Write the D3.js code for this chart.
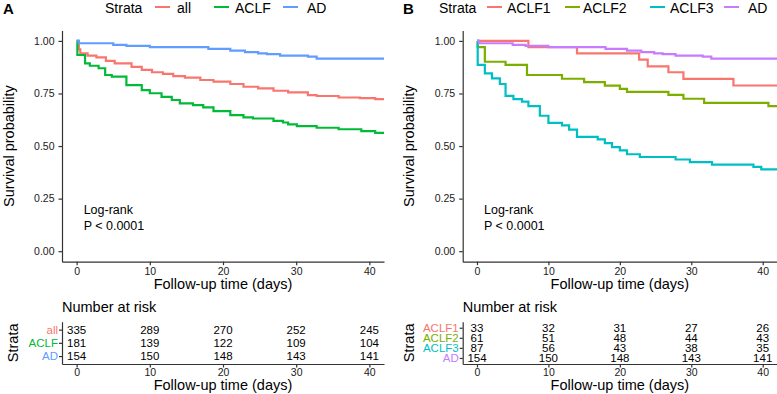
<!DOCTYPE html>
<html>
<head>
<meta charset="utf-8">
<script src="https://cdn.jsdelivr.net/npm/d3@7"></script>
<style>
  body { margin: 0; background: #fff; }
  svg { display: block; font-family: "Liberation Sans", Arial, sans-serif; }
</style>
</head>
<body>
<div id="chart"></div>
<script>
// ---- data ----
const yTicks = [0, 0.25, 0.5, 0.75, 1];
const xTicks = [0, 10, 20, 30, 40];
const riskTimes = [0, 10, 20, 30, 40];

// panel A
const groupsA = ['all', 'ACLF', 'AD'];
const allT = [0, 0.3, 0.5, 1.5, 2.7, 4.0, 5.2, 7.5, 8.9, 10.3, 11.8, 13.2, 14.8, 16.9, 18.7, 21, 22.8, 24.8, 26.9, 28.9, 31.6, 32.8, 35.8, 38.7, 40.8, 42];
const allS = [1, 0.960, 0.941, 0.930, 0.922, 0.905, 0.893, 0.877, 0.862, 0.851, 0.843, 0.833, 0.825, 0.814, 0.806, 0.795, 0.782, 0.774, 0.763, 0.755, 0.742, 0.738, 0.731, 0.728, 0.723, 0.723];
const aclfT = [0, 0.1, 1.15, 1.8, 3.0, 3.9, 4.8, 6.8, 8.9, 10, 11.6, 13, 14.1, 15.9, 17.3, 18.7, 21, 22.8, 24.1, 26.9, 28.2, 28.9, 30.1, 32.8, 35.8, 38.9, 40.8, 42];
const aclfS = [1, 0.933, 0.893, 0.882, 0.870, 0.838, 0.830, 0.790, 0.766, 0.751, 0.734, 0.719, 0.703, 0.695, 0.684, 0.666, 0.647, 0.636, 0.631, 0.620, 0.612, 0.603, 0.595, 0.587, 0.580, 0.571, 0.563, 0.563];
const adT = [0, 0.3, 5.0, 6.8, 10, 18, 21, 23, 24.8, 26, 27.8, 31.6, 32.8, 42];
const adS = [1, 0.989, 0.981, 0.976, 0.970, 0.962, 0.954, 0.947, 0.941, 0.937, 0.930, 0.925, 0.916, 0.916];

// panel B
const groupsB = ['ACLF1', 'ACLF2', 'ACLF3', 'AD'];
const aclf1T = [0, 7.2, 14, 22.7, 23.9, 26.8, 28.9, 35.9, 42];
const aclf1S = [1, 0.970, 0.941, 0.911, 0.879, 0.851, 0.819, 0.788, 0.788];
const aclf2T = [0, 0.1, 1.1, 4.0, 7.0, 11.9, 15, 17.9, 20, 21, 26.8, 28.9, 31.8, 40.8, 42];
const aclf2S = [1, 0.970, 0.901, 0.886, 0.838, 0.820, 0.804, 0.787, 0.772, 0.758, 0.743, 0.725, 0.705, 0.690, 0.690];
const aclf3T = [0, 0.1, 1.1, 2.1, 3.2, 4.0, 5.1, 6.3, 7.2, 8.8, 10, 11.9, 12.9, 14, 16.9, 17.9, 18.9, 20, 21, 22.8, 27.8, 29.8, 32.9, 38.7, 39.8, 42];
const aclf3S = [1, 0.886, 0.846, 0.822, 0.795, 0.739, 0.723, 0.711, 0.690, 0.644, 0.610, 0.598, 0.578, 0.544, 0.532, 0.514, 0.495, 0.479, 0.461, 0.448, 0.436, 0.424, 0.412, 0.401, 0.389, 0.389];

// number at risk
const riskAll = [335, 289, 270, 252, 245];
const riskACLF = [181, 139, 122, 109, 104];
const riskAD = [154, 150, 148, 143, 141];
const riskACLF1 = [33, 32, 31, 27, 26];
const riskACLF2 = [61, 51, 48, 44, 43];
const riskACLF3 = [87, 56, 43, 38, 35];

const colorsA = ['#F8766D', '#00BA38', '#619CFF'];
const colorsB = ['#F8766D', '#7CAE00', '#00BFC4', '#C77CFF'];

function zipCurve(t, s) {
    return t.map((d, i) => ({ t: d, s: s[i] }));
}

const svg = d3.select('#chart')
    .append('svg')
    .attr('width', 777)
    .attr('height', 394);

function styleAxis(a) {
    a.selectAll('path, line').attr('stroke', '#333').attr('stroke-width', 1.2);
    a.selectAll('text').attr('font-size', 10.5).attr('fill', '#1a1a1a')
        .attr('font-family', '"Liberation Sans", Arial, sans-serif');
}

function drawPanel(cfg) {
    const x = d3.scaleLinear().domain([-2, 42]).range([cfg.left, cfg.right]);
    const y = d3.scaleLinear().domain([-0.05, 1.05]).range([261.7, 30.4]);
    const g = svg.append('g');

    // panel letter
    g.append('text')
        .attr('x', cfg.letterX).attr('y', 13.5)
        .attr('font-size', 15).attr('font-weight', 'bold')
        .text(cfg.letter);

    // legend
    g.append('text')
        .attr('x', cfg.legend.strata).attr('y', 12.5)
        .attr('font-size', 14)
        .text('Strata');
    cfg.groups.forEach((name, i) => {
        const k = cfg.legend.keys[i];
        g.append('line')
            .attr('x1', k[0]).attr('x2', k[0] + 15)
            .attr('y1', 7).attr('y2', 7)
            .attr('stroke', cfg.colors[i]).attr('stroke-width', 2);
        g.append('text')
            .attr('x', k[1]).attr('y', 12.5)
            .attr('font-size', 14)
            .text(name);
    });

    // curves
    const line = d3.line()
        .x(d => x(d.t))
        .y(d => y(d.s))
        .curve(d3.curveStepAfter);
    cfg.curves.forEach((c, i) => {
        g.append('path')
            .attr('fill', 'none')
            .attr('stroke', cfg.colors[i])
            .attr('stroke-width', 2.2)
            .attr('d', line(c));
    });

    // axes
    const axisY = d3.axisLeft(y).tickValues(yTicks).tickFormat(d3.format('.2f'))
        .tickSize(3.5).tickSizeOuter(0).tickPadding(4);
    const gy = g.append('g')
        .attr('transform', `translate(${cfg.left}, 0)`)
        .call(axisY);
    const axisX = d3.axisBottom(x).tickValues(xTicks)
        .tickSize(3.5).tickSizeOuter(0).tickPadding(2);
    const gx = g.append('g')
        .attr('transform', 'translate(0, 261.7)')
        .call(axisX);
    styleAxis(gx);
    styleAxis(gy);

    g.append('text')
        .attr('transform', `translate(${cfg.left - 48.5}, ${y(0.5)}) rotate(-90)`)
        .attr('text-anchor', 'middle')
        .attr('font-size', 14.5)
        .text('Survival probability');
    g.append('text')
        .attr('x', (x(-2) + x(42)) / 2).attr('y', 288.5)
        .attr('text-anchor', 'middle')
        .attr('font-size', 14.5)
        .text('Follow-up time (days)');

    g.append('text')
        .attr('x', x(0) + 7).attr('y', 214)
        .attr('font-size', 12.5)
        .text('Log-rank');
    g.append('text')
        .attr('x', x(0) + 7).attr('y', 230)
        .attr('font-size', 12.5)
        .text('P < 0.0001');

    // number at risk table
    g.append('text')
        .attr('x', cfg.left).attr('y', 312)
        .attr('font-size', 14.5)
        .text('Number at risk');

    const rows = d3.scalePoint().domain(cfg.groups).range([321.7, 364]).padding(0.6);
    const axisR = d3.axisLeft(rows).tickSize(3).tickSizeOuter(0).tickPadding(1);
    const gr = g.append('g')
        .attr('transform', `translate(${cfg.left}, 0)`)
        .call(axisR);
    styleAxis(gr);
    gr.selectAll('text')
        .attr('font-size', 11.5)
        .attr('fill', (d, i) => cfg.colors[i]);
    const axisT = d3.axisBottom(x).tickValues(riskTimes)
        .tickSize(3.5).tickSizeOuter(0).tickPadding(1.5);
    const gt = g.append('g')
        .attr('transform', 'translate(0, 364)')
        .call(axisT);
    styleAxis(gt);

    cfg.groups.forEach((name, i) => {
        g.append('g')
            .selectAll('text')
            .data(cfg.risk[i])
            .join('text')
            .attr('x', (d, j) => x(riskTimes[j]))
            .attr('y', rows(name))
            .attr('dy', '0.36em')
            .attr('text-anchor', 'middle')
            .attr('font-size', cfg.riskFont)
            .text(d => d);
    });

    g.append('text')
        .attr('transform', `translate(${cfg.strataX}, ${(321.7 + 364) / 2}) rotate(-90)`)
        .attr('text-anchor', 'middle')
        .attr('font-size', 14.5)
        .text('Strata');
    g.append('text')
        .attr('x', (x(-2) + x(42)) / 2).attr('y', 390)
        .attr('text-anchor', 'middle')
        .attr('font-size', 14.5)
        .text('Follow-up time (days)');
}

drawPanel({
    left: 62, right: 384,
    letter: 'A', letterX: 3,
    groups: groupsA,
    colors: colorsA,
    curves: [zipCurve(allT, allS), zipCurve(aclfT, aclfS), zipCurve(adT, adS)],
    risk: [riskAll, riskACLF, riskAD],
    riskFont: 11.5,
    strataX: 18,
    legend: { strata: 105, keys: [[155, 177], [214, 235], [283, 307]] }
});

drawPanel({
    left: 462.7, right: 777,
    letter: 'B', letterX: 403,
    groups: groupsB,
    colors: colorsB,
    curves: [zipCurve(aclf1T, aclf1S), zipCurve(aclf2T, aclf2S), zipCurve(aclf3T, aclf3S), zipCurve(adT, adS)],
    risk: [riskACLF1, riskACLF2, riskACLF3, riskAD],
    riskFont: 11.5,
    strataX: 414,
    legend: { strata: 439, keys: [[487, 507], [565, 583], [650, 670], [724, 748]] }
});
</script>
</body>
</html>
